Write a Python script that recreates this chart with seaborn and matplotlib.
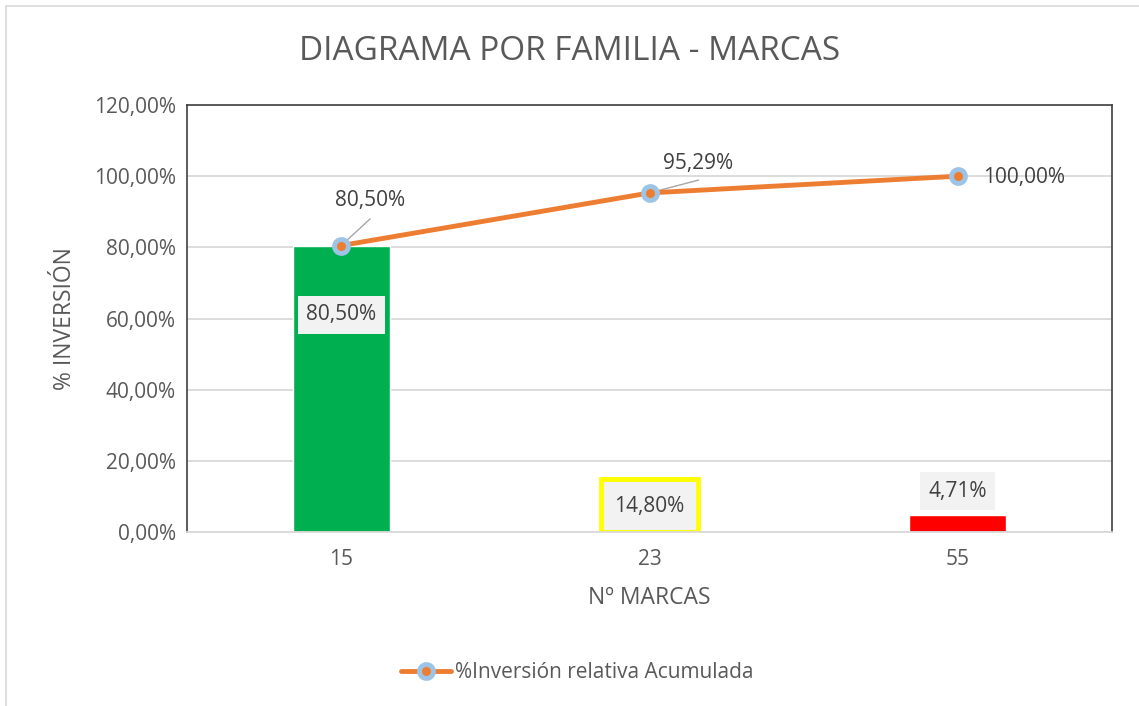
import matplotlib
matplotlib.use("Agg")
import matplotlib.pyplot as plt
from matplotlib.lines import Line2D
from matplotlib.patches import Rectangle
import seaborn as sns

# data
marcas = ["15", "23", "55"]
inversion = [80.50, 14.80, 4.71]
acumulado = [80.50, 95.29, 100.00]
bar_labels = ["80,50%", "14,80%", "4,71%"]
line_labels = ["80,50%", "95,29%", "100,00%"]
yticks = [0, 20, 40, 60, 80, 100, 120]

TXT = "#595959"
LBL = "#404040"
GRID = "#D9D9D9"
FS = 15

sns.set_theme(style="white")
plt.rcParams["font.family"] = ["Open Sans", "DejaVu Sans"]

fig = plt.figure(figsize=(11.39, 7.06), dpi=100)
ax = fig.add_axes([187 / 1139, 1 - 532 / 706, 925 / 1139, 427 / 706])

sns.barplot(x=marcas, y=inversion, hue=marcas, palette=["#00B050", "#F2F2F2", "#FF0000"],
            saturation=1, width=0.315, legend=False, ax=ax, zorder=2)
# middle bar has a yellow outline
ax.patches[1].set_edgecolor("#FFFF00")
ax.patches[1].set_linewidth(3.5)

sns.pointplot(x=marcas, y=acumulado, color="#ED7D31", errorbar=None, ax=ax,
              linewidth=3.5, markersize=10, markerfacecolor="#ED7D31",
              markeredgecolor="#9DC3E6", markeredgewidth=3.5)
for ln in ax.lines:
    ln.set_zorder(4)

ax.set_xlim(-0.5, 2.5)
ax.set_ylim(0, 120)
ax.set_yticks(yticks)
ax.set_yticklabels([f"{v},00%" for v in yticks])
ax.yaxis.grid(True, color=GRID, linewidth=1.3, zorder=0)
ax.set_axisbelow(True)
ax.tick_params(axis="both", length=0, labelsize=FS, labelcolor=TXT)
ax.tick_params(axis="y", pad=8)
ax.tick_params(axis="x", pad=12)
for s in ["top", "left", "right"]:
    ax.spines[s].set_color("#404040")
    ax.spines[s].set_linewidth(1.2)
ax.spines["bottom"].set_color(GRID)
ax.spines["bottom"].set_linewidth(1.3)

ax.set_xlabel("Nº MARCAS", fontsize=16.5, color=TXT, labelpad=12)
ax.set_ylabel("% INVERSIÓN", fontsize=16.5, color=TXT, labelpad=12)
fig.text(0.5, 1 - 52 / 706, "DIAGRAMA POR FAMILIA - MARCAS", ha="center", va="center",
         fontsize=24, color=TXT)

box = dict(boxstyle="square,pad=0.4", facecolor="#F2F2F2", edgecolor="none")
ax.text(0, 61.0, bar_labels[0], ha="center", va="center", fontsize=FS, color=LBL, bbox=box, zorder=5)
ax.text(1, 7.2, bar_labels[1], ha="center", va="center", fontsize=FS, color=LBL, zorder=5)
ax.text(2, 11.5, bar_labels[2], ha="center", va="center", fontsize=FS, color=LBL, bbox=box, zorder=5)

# line labels with leader lines
ax.plot([0, 0.094], [acumulado[0], 88.0], color="#A6A6A6", lw=1, zorder=3)
ax.text(0.094, 93.3, line_labels[0], ha="center", va="center", fontsize=FS, color=LBL)
ax.plot([1, 1.159], [acumulado[1], 98.9], color="#A6A6A6", lw=1, zorder=3)
ax.text(1.156, 103.7, line_labels[1], ha="center", va="center", fontsize=FS, color=LBL)
ax.text(2.081, 99.5, line_labels[2], ha="left", va="center", fontsize=FS, color=LBL)

handle = Line2D([], [], color="#ED7D31", lw=3.5, marker="o", markersize=10,
                markerfacecolor="#ED7D31", markeredgecolor="#9DC3E6", markeredgewidth=3.5)
fig.legend([handle], ["%Inversión relativa Acumulada"], loc="center",
           bbox_to_anchor=(577 / 1139, 1 - 673 / 706), frameon=False,
           fontsize=FS, labelcolor=TXT, handlelength=2.4, handletextpad=0.2)

# chart area border
fig.patches.append(Rectangle((6 / 1139, -0.1), 1.2, 1.1 - 6 / 706, transform=fig.transFigure,
                             fill=False, edgecolor=GRID, lw=1.2))

fig.savefig("out.png", dpi=100)
